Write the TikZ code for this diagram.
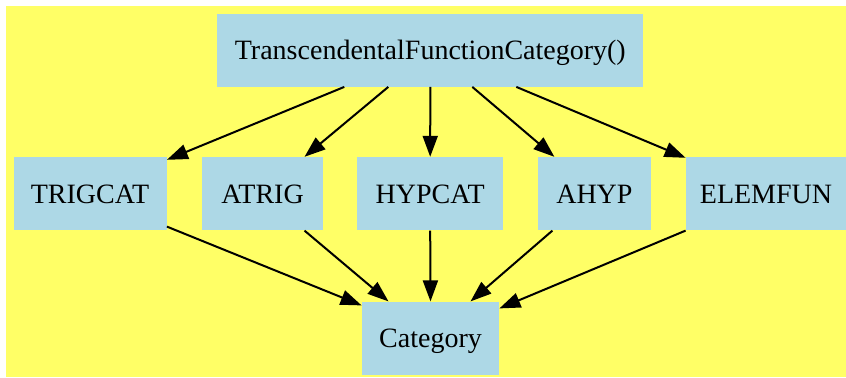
\documentclass[tikz,border=0pt]{standalone}
\usepackage{fontspec}
\setmainfont{Liberation Serif}
\usetikzlibrary{positioning,arrows.meta}
\definecolor{bgyellow}{HTML}{FFFF66}
\definecolor{boxblue}{HTML}{ADD8E6}
\tikzset{
  catbox/.style={fill=boxblue,minimum height=36.5pt,inner sep=2pt,
                 text height=10.5pt,text depth=1pt,
                 font=\fontsize{14}{17}\selectfont},
  ln/.style={-{Triangle[length=10.5pt,width=7.5pt]},line width=1pt},
}

\begin{document}
\begin{tikzpicture}[x=0.5pt,y=-0.5pt]

\useasboundingbox (0,0) rectangle (846,377);
\fill[bgyellow] (6,6) rectangle (846,377);

\node[catbox,minimum width=213pt] (tfc) at (430.3,50) {TranscendentalFunctionCategory()};
\node[catbox,minimum width=76.5pt] (trig) at (90,193.7) {TRIGCAT};
\node[catbox,minimum width=60.5pt] (atrig) at (262.5,193.7) {ATRIG};
\node[catbox,minimum width=73pt] (hyp) at (430.2,193.7) {HYPCAT};
\node[catbox,minimum width=56.5pt] (ahyp) at (594.4,193.7) {AHYP};
\node[catbox,minimum width=80pt] (elem) at (766,193.7) {ELEMFUN};
\node[catbox,minimum width=68.5pt] (categ) at (430.5,338.3) {Category};

% down from the top category
\draw[ln] ([xshift=-43pt]tfc.south) -- ([yshift=-1.5pt]trig.north east);
\draw[ln] ([xshift=-21pt]tfc.south) -- ([xshift=21pt]atrig.north);
\draw[ln] (tfc.south) -- (hyp.north);
\draw[ln] ([xshift=21pt]tfc.south) -- ([xshift=-20pt]ahyp.north);
\draw[ln] ([xshift=43pt]tfc.south) -- ([yshift=-0.5pt]elem.north west);

% into Category
\draw[ln] ([yshift=2pt]trig.south east) -- ([yshift=-2pt]categ.north west);
\draw[ln] ([xshift=21pt]atrig.south) -- ([xshift=-21pt]categ.north);
\draw[ln] (hyp.south) -- (categ.north);
\draw[ln] ([xshift=-21pt]ahyp.south) -- ([xshift=20pt]categ.north);
\draw[ln] (elem.south west) -- ([yshift=-3.5pt]categ.north east);

\end{tikzpicture}
\end{document}
